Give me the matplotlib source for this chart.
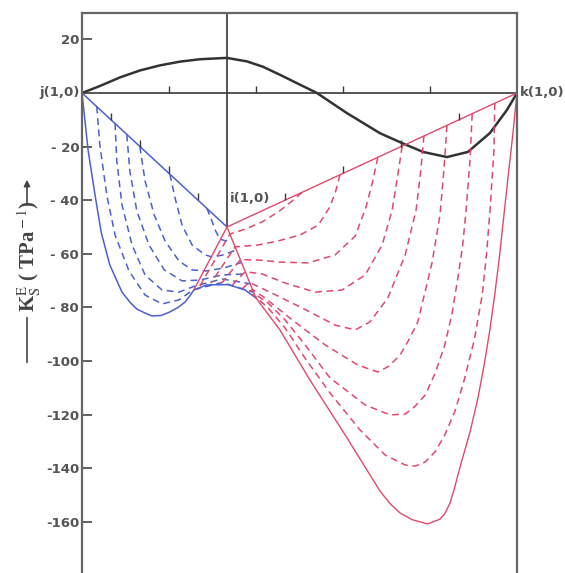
import matplotlib.pyplot as plt
from matplotlib.lines import Line2D

plt.rcParams['mathtext.fontset'] = 'stix'

# composition axis: j at 0, i at 1/3, k at 1 ; values in TPa^-1
x_i, y_i = 1 / 3, -50.0
x_q, y_q = 0.257, -73.5

ytick_vals = [20, -20, -40, -60, -80, -100, -120, -140, -160]
ytick_text = ['20', '- 20', '- 40', '- 60', '- 80', '-100', '-120', '-140', '-160']
tick_fracs = [0.2, 0.4, 0.6, 0.8]

# binary j + k
jk_x = [0, 0.041, 0.087, 0.133, 0.179, 0.225, 0.271, 0.333, 0.379, 0.416, 0.455, 0.5,
        0.540, 0.609, 0.685, 0.736, 0.784, 0.839, 0.887, 0.938, 0.977, 1.0]
jk_y = [0, 2.6, 5.8, 8.4, 10.3, 11.7, 12.6, 13.1, 11.8, 9.8, 6.8, 3.2,
        0, -7.5, -15.0, -18.7, -22.0, -23.9, -22.0, -14.9, -6.3, 0]

# j + i side (blue)
blue_solid_x = [0, 0.014, 0.030, 0.044, 0.064, 0.092, 0.110, 0.126, 0.145, 0.161, 0.182,
                0.202, 0.221, 0.237, 0.248, 0.257, 0.287, 0.336, 0.375, 0.400]
blue_solid_y = [0, -21.3, -38.1, -51.9, -64.2, -74.3, -78.0, -80.6, -82.1, -83.2, -83.0,
                -81.7, -80.0, -78.0, -75.7, -73.5, -71.6, -71.5, -73.5, -76.5]
blue_dash_x = [
    [0.034, 0.041, 0.057, 0.076, 0.108, 0.145, 0.184, 0.223, 0.255, 0.322, 0.395],
    [0.076, 0.080, 0.092, 0.115, 0.145, 0.184, 0.223, 0.260, 0.322, 0.387],
    [0.103, 0.110, 0.126, 0.154, 0.189, 0.230, 0.271, 0.322, 0.377],
    [0.133, 0.145, 0.166, 0.191, 0.223, 0.253, 0.285, 0.326, 0.367],
    [0.202, 0.214, 0.230, 0.253, 0.283, 0.299, 0.326, 0.355],
    [0.287, 0.297, 0.306, 0.317, 0.331, 0.343],
]
blue_dash_y = [
    [-5.1, -19.4, -38.1, -53.0, -66.4, -75.4, -78.7, -77.2, -73.5, -70.7, -74.4],
    [-11.3, -25.4, -41.8, -56.7, -67.9, -73.5, -74.3, -72.0, -69.4, -71.2],
    [-15.5, -29.1, -44.0, -56.7, -66.0, -70.1, -69.8, -67.9, -67.5],
    [-20.0, -32.8, -45.5, -55.2, -62.7, -66.0, -66.4, -65.3, -63.2],
    [-30.3, -39.2, -49.3, -56.7, -60.4, -61.2, -60.4, -58.5],
    [-43.0, -47.0, -51.1, -54.5, -55.2, -54.0],
]

# i + k side (red)
red_solid_x = [0.3333, 0.400, 0.455, 0.524, 0.605, 0.685, 0.708, 0.731, 0.759, 0.795,
               0.823, 0.834, 0.846, 0.857, 0.869, 0.892, 0.910, 0.925, 0.938, 0.949,
               0.959, 0.969, 0.979, 0.990, 1.0]
red_solid_y = [-50, -76.5, -88.4, -107.1, -127.6, -148.5, -153.2, -156.7, -159.2, -160.8,
               -159.0, -157.0, -153.0, -147.0, -139.6, -126.5, -114.0, -101.0, -88.0, -75.0,
               -62.0, -47.0, -32.0, -16.0, 0]
red_dash_x = [
    [0.506, 0.483, 0.451, 0.414, 0.377, 0.340, 0.270],
    [0.593, 0.584, 0.570, 0.543, 0.501, 0.451, 0.405, 0.352, 0.296],
    [0.680, 0.669, 0.653, 0.628, 0.582, 0.520, 0.455, 0.405, 0.364, 0.322],
    [0.736, 0.726, 0.713, 0.690, 0.651, 0.598, 0.536, 0.467, 0.414, 0.375, 0.346],
    [0.786, 0.779, 0.768, 0.743, 0.703, 0.662, 0.628, 0.582, 0.506, 0.432, 0.385, 0.368],
    [0.839, 0.832, 0.823, 0.805, 0.772, 0.750, 0.731, 0.705, 0.680, 0.634, 0.559, 0.478,
     0.421, 0.392, 0.383],
    [0.897, 0.892, 0.883, 0.875, 0.864, 0.851, 0.834, 0.812, 0.789, 0.765, 0.743, 0.708,
     0.651, 0.570, 0.513, 0.467, 0.428, 0.396, 0.391],
    [0.949, 0.947, 0.938, 0.930, 0.920, 0.902, 0.880, 0.858, 0.834, 0.812, 0.789, 0.766,
     0.743, 0.697, 0.639, 0.570, 0.513, 0.467, 0.428, 0.399, 0.397],
]
red_dash_y = [
    [-37.1, -40.3, -44.4, -48.1, -50.7, -52.6, -72.3],
    [-30.5, -36.2, -42.5, -49.3, -53.0, -55.2, -56.7, -57.4, -71.0],
    [-24.0, -32.5, -42.5, -53.4, -60.4, -63.4, -63.1, -62.3, -62.2, -70.8],
    [-19.8, -30.6, -43.7, -56.7, -67.9, -73.5, -74.3, -70.9, -67.5, -66.7, -71.6],
    [-16.0, -28.7, -43.7, -60.4, -76.5, -85.4, -88.4, -86.6, -80.2, -74.3, -70.7, -73.0],
    [-12.1, -28.7, -45.5, -63.1, -85.4, -92.5, -97.8, -102.0, -104.1, -101.5, -94.0, -84.0,
     -76.5, -73.3, -74.4],
    [-7.8, -25.0, -43.7, -57.0, -69.0, -82.0, -94.0, -104.5, -112.7, -117.0, -119.8, -120.1,
     -116.4, -106.3, -94.0, -84.7, -78.4, -74.9, -75.4],
    [-3.8, -21.3, -43.7, -60.0, -75.4, -92.0, -106.3, -118.5, -127.6, -133.8, -137.7, -139.2,
     -138.8, -135.1, -125.7, -111.9, -99.0, -87.7, -80.2, -76.0, -76.1],
]

blue = '#4b60d0'
red = '#e2486c'
dark = '#3a3a3a'
grey = '#555555'

fig = plt.figure(figsize=(5.65, 5.73), dpi=100)
ax = fig.add_axes([82 / 565, 0, 435 / 565, 1 - 13 / 573])
ax.set_xlim(0, 1)
ax.set_ylim(-179.1, 29.85)

for side in ['left', 'right', 'top']:
    ax.spines[side].set_color('#666666')
    ax.spines[side].set_linewidth(1.6)
ax.spines['bottom'].set_visible(False)
ax.set_xticks([])
ax.set_yticks(ytick_vals)
ax.set_yticklabels(ytick_text, fontsize=9.5, fontweight='bold', color=grey)
ax.tick_params(axis='y', direction='in', length=7, width=1.3, color=grey, pad=2)

# baselines
ax.plot([0, 1], [0, 0], color=dark, lw=1.2)
ax.plot([x_i, x_i], [y_i, ax.get_ylim()[1]], color=dark, lw=1.2)
ax.plot(tick_fracs, [0] * len(tick_fracs), ls='none', marker=2, ms=5, mew=1, color=dark)

# binary j+k
ax.plot(jk_x, jk_y, color='#333333', lw=1.8)

# blue part
ax.plot([0, x_i], [0, y_i], color=blue, lw=1.1)
ax.plot(blue_solid_x, blue_solid_y, color=blue, lw=1.1)
for xs, ys in zip(blue_dash_x, blue_dash_y):
    ax.plot(xs, ys, color=blue, lw=1.1, dashes=(4.5, 3))
ax.plot([f * x_i for f in tick_fracs], [f * y_i for f in tick_fracs],
        ls='none', marker=2, ms=5, mew=1, color=dark)

# red part
ax.plot([x_i, 1], [y_i, 0], color=red, lw=1.0)
ax.plot([x_i, x_q], [y_i, y_q], color=red, lw=1.0)
ax.plot(red_solid_x, red_solid_y, color=red, lw=1.0)
for xs, ys in zip(red_dash_x, red_dash_y):
    ax.plot(xs, ys, color=red, lw=1.1, dashes=(4.5, 3))
ax.plot([x_i + f * (1 - x_i) for f in tick_fracs], [y_i * (1 - f) for f in tick_fracs],
        ls='none', marker=2, ms=5, mew=1, color=dark)

# point labels
ax.text(-0.006, 0, 'j(1,0)', ha='right', va='center', fontsize=9.5,
        fontweight='bold', color=grey, clip_on=False)
ax.text(1.006, 0, 'k(1,0)', ha='left', va='center', fontsize=9.5,
        fontweight='bold', color=grey, clip_on=False)
ax.text(x_i + 0.006, -39.2, 'i(1,0)', ha='left', va='center', fontsize=9.5,
        fontweight='bold', color=grey)

# y label with line and arrow
fig.text(0.053, 1 - 256 / 573, r'K$_{\rm S}^{\rm E}$ ( TPa$^{\rm -1}$)', rotation=90,
         ha='center', va='center', fontsize=15, fontweight='bold',
         family='Liberation Serif', color='#444444')
fig.add_artist(Line2D([27 / 565, 27 / 565], [1 - 362 / 573, 1 - 318 / 573],
                      transform=fig.transFigure, color='#444444', lw=1.2))
ax.annotate('', xy=(27 / 565, 1 - 177 / 573), xycoords='figure fraction',
            xytext=(27 / 565, 1 - 206 / 573), textcoords='figure fraction',
            arrowprops=dict(arrowstyle='-|>', color='#444444', lw=1.2, mutation_scale=9))

fig.savefig('out.png', dpi=100)
